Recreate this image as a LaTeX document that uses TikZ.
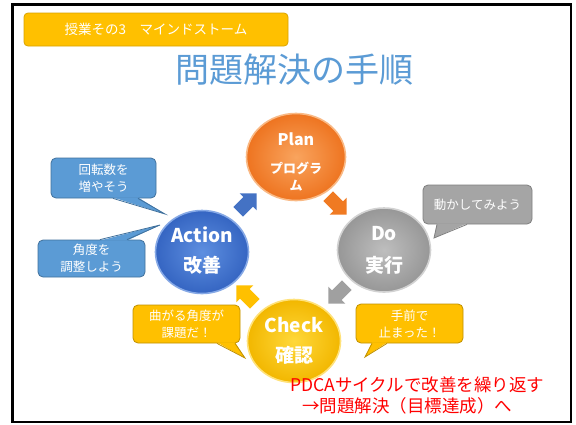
\documentclass[tikz,border=0pt]{standalone}
\usepackage{fontspec}
\setmainfont{Noto Sans CJK JP}
\usetikzlibrary{shapes.arrows,shapes.geometric}
\definecolor{lblfill}{HTML}{FFC000}
\definecolor{lbldraw}{HTML}{D9A300}
\definecolor{ttlblue}{HTML}{5B9BD5}
\definecolor{planB}{HTML}{EE7420}
\definecolor{planI}{HTML}{F9A45E}
\definecolor{planR}{HTML}{F9B985}
\definecolor{actB}{HTML}{3565C2}
\definecolor{actI}{HTML}{5E8FE0}
\definecolor{actR}{HTML}{86A9E6}
\definecolor{doB}{HTML}{979797}
\definecolor{doI}{HTML}{BEBEBE}
\definecolor{doR}{HTML}{D2D2D2}
\definecolor{chkB}{HTML}{F2B700}
\definecolor{chkI}{HTML}{FFD83A}
\definecolor{chkR}{HTML}{FFE27A}
\definecolor{cblue}{HTML}{5B9BD5}
\definecolor{cblueD}{HTML}{41719C}
\definecolor{cgray}{HTML}{A5A5A5}
\definecolor{cgrayD}{HTML}{7F7F7F}
\definecolor{cyel}{HTML}{FFC000}
\definecolor{cyelD}{HTML}{BF9000}
\definecolor{arrBlue}{HTML}{4472C4}
\definecolor{arrOrange}{HTML}{F07A22}
\definecolor{arrGray}{HTML}{A0A0A0}
\definecolor{arrYel}{HTML}{FFC000}
\begin{document}
\begin{tikzpicture}[x=1pt,y=-1pt,
  lblbox/.style={rounded corners=4pt, fill=lblfill, draw=lbldraw, line width=0.8pt,
    minimum width=264pt, minimum height=33pt, inner sep=0pt, text=white,
    font=\fontsize{13.5}{16}\selectfont},
  ttl/.style={text=ttlblue, inner sep=0pt, font=\fontsize{34}{40}\selectfont},
  ball/.style n args={3}{ellipse, minimum width=#1, minimum height=#2, inner sep=0pt, draw=#3, line width=1.6pt},
  ctext/.style={text=white, inner sep=0pt, font=\bfseries\fontsize{#1}{#1}\selectfont},
  blockarrow/.style={single arrow, draw=none, fill=#1, minimum height=26pt,
    minimum width=24pt, inner sep=0pt, inner ysep=6.5pt, single arrow head extend=5pt},
  cbox/.style={rounded corners=5pt, inner sep=0pt, align=center, text=white,
    line width=0.8pt, font=\fontsize{12.5}{17}\selectfont},
  redtxt/.style={text=red, inner sep=0pt, anchor=west, font=\fontsize{17.5}{20}\selectfont}
]
\useasboundingbox (0,0) rectangle (576,424);
\fill[white] (0,0) rectangle (576,424);
\draw[line width=2.6pt] (12.5,4.2) rectangle (571,422);

% header
\node[lblbox] (lbl) at (156,29.5) {授業その3　マインドストーム};
\node[ttl] (title) at (294,70) {問題解決の手順};

% circles
\node[ball={99pt}{87pt}{planR}, inner color=planI, outer color=planB] (plan) at (296,157) {};
\node[ball={93pt}{83pt}{actR}, inner color=actI, outer color=actB] (act) at (202,252) {};
\node[ball={93pt}{84pt}{doR}, inner color=doI, outer color=doB] (do) at (384,250) {};
\node[ball={93pt}{83pt}{chkR}, inner color=chkI, outer color=chkB] (chk) at (294,341) {};

% circle texts
\node[ctext=16] (planA) at (296,139) {Plan};
\node[ctext=13] (planB) at (296,168) {プログラ};
\node[ctext=13] (planC) at (296,186) {ム};
\node[ctext=19] (actA) at (202,235) {Action};
\node[ctext=19] (actBt) at (202,265) {改善};
\node[ctext=19] (doA) at (384,234) {Do};
\node[ctext=19] (doBt) at (384,265) {実行};
\node[ctext=19] (chkA) at (294,325) {Check};
\node[ctext=19] (chkBt) at (294,355) {確認};

% cycle arrows
\node[blockarrow=arrBlue, rotate=45] (a1) at (245,205) {};
\node[blockarrow=arrOrange, rotate=-45] (a2) at (335,203) {};
\node[blockarrow=arrGray, rotate=-135] (a3) at (340,292) {};
\node[blockarrow=arrYel, rotate=135] (a4) at (248,297) {};

% callouts
\node[cbox, fill=cblue, draw=cblueD, minimum width=105pt, minimum height=40pt] (cA1) at (103.5,178) {回転数を\\増やそう};
\coordinate (tA1) at (165,214);
\fill[cblue] ([xshift=9.5pt,yshift=1pt]cA1.south) -- (tA1) -- ([xshift=34.5pt,yshift=1pt]cA1.south) -- cycle;
\draw[cblueD, line width=0.8pt] ([xshift=9.5pt]cA1.south) -- (tA1) -- ([xshift=34.5pt]cA1.south);

\node[cbox, fill=cblue, draw=cblueD, minimum width=107pt, minimum height=37pt] (cA2) at (91.5,258.5) {角度を\\調整しよう};
\coordinate (tA2) at (160,225);
\fill[cblue] ([xshift=8.5pt,yshift=-1pt]cA2.north) -- (tA2) -- ([xshift=35.5pt,yshift=-1pt]cA2.north) -- cycle;
\draw[cblueD, line width=0.8pt] ([xshift=8.5pt]cA2.north) -- (tA2) -- ([xshift=35.5pt]cA2.north);

\node[cbox, fill=cgray, draw=cgrayD, minimum width=109pt, minimum height=39pt] (cD) at (477.5,204.5) {動かしてみよう};
\coordinate (tD) at (434,238);
\fill[cgray] ([xshift=-40.5pt,yshift=1pt]cD.south) -- (tD) -- ([xshift=-10.5pt,yshift=1pt]cD.south) -- cycle;
\draw[cgrayD, line width=0.8pt] ([xshift=-40.5pt]cD.south) -- (tD) -- ([xshift=-10.5pt]cD.south);

\node[cbox, fill=cyel, draw=cyelD, minimum width=107pt, minimum height=38pt] (cC1) at (186.5,324) {曲がる角度が\\課題だ！};
\coordinate (tC1) at (245,358);
\fill[cyel] ([xshift=30.5pt,yshift=1pt]cC1.south) -- (tC1) -- ([xshift=48.5pt,yshift=1pt]cC1.south) -- cycle;
\draw[cyelD, line width=0.8pt] ([xshift=30.5pt]cC1.south) -- (tC1) -- ([xshift=48.5pt]cC1.south);

\node[cbox, fill=cyel, draw=cyelD, minimum width=107pt, minimum height=39pt] (cC2) at (409.5,323.5) {手前で\\止まった！};
\coordinate (tC2) at (365,357);
\fill[cyel] ([xshift=-37.5pt,yshift=1pt]cC2.south) -- (tC2) -- ([xshift=-22.5pt,yshift=1pt]cC2.south) -- cycle;
\draw[cyelD, line width=0.8pt] ([xshift=-37.5pt]cC2.south) -- (tC2) -- ([xshift=-22.5pt]cC2.south);

% red conclusion
\node[redtxt] (r1) at (290,385) {PDCAサイクルで改善を繰り返す};
\node[redtxt] (r2) at (302,406) {→問題解決（目標達成）へ};
\end{tikzpicture}
\end{document}
